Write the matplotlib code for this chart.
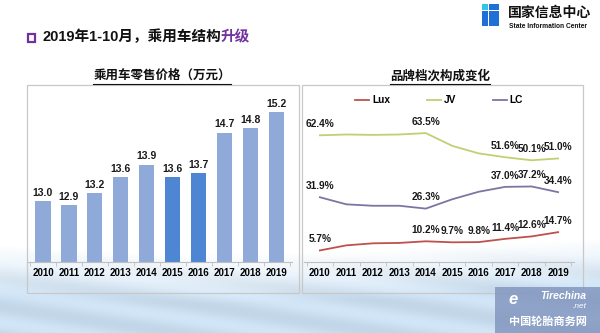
import matplotlib
matplotlib.use("Agg")
import matplotlib.pyplot as plt
from matplotlib.patches import Rectangle
from matplotlib.lines import Line2D
import numpy as np

plt.rcParams['font.family'] = ['Liberation Sans', 'Noto Sans CJK SC', 'DejaVu Sans']

# ---- data ----
years = ['2010', '2011', '2012', '2013', '2014', '2015', '2016', '2017', '2018', '2019']
prices = [13.0, 12.9, 13.2, 13.6, 13.9, 13.6, 13.7, 14.7, 14.8, 15.2]
highlight_years = ['2015', '2016']

lux = [5.7, 8.2, 9.2, 9.4, 10.2, 9.7, 9.8, 11.4, 12.6, 14.7]
jv = [62.4, 62.8, 62.6, 62.8, 63.5, 57.2, 53.5, 51.6, 50.1, 51.0]
lc = [31.9, 28.4, 27.7, 27.7, 26.3, 30.9, 34.6, 37.0, 37.2, 34.4]
lux_labeled = ['2010', '2014', '2015', '2016', '2017', '2018', '2019']
jv_labeled = ['2010', '2014', '2017', '2018', '2019']
lc_labeled = ['2010', '2014', '2017', '2018', '2019']

main_title = '2019年1-10月，乘用车结构'
main_title_hl = '升级'
left_title = '乘用车零售价格（万元）'
right_title = '品牌档次构成变化'

W, H = 600, 333
fig = plt.figure(figsize=(6, 3.33), dpi=100)


def fx(px):
    return px / W


def fy(py):
    return 1 - py / H


# ---- background: white fading to pale blue at the bottom ----
bg = fig.add_axes([0, 0, 1, 1], zorder=-10)
yy, xx = np.mgrid[0:H, 0:W]
t = np.clip((yy - 245 - 8 * np.sin(xx / W * np.pi * 1.3)) / 50, 0, 1)
band = 0.03 * np.sin((yy - 0.15 * xx) / 5.0)
white = np.array([1.0, 1.0, 1.0])
blue = np.array([0.79, 0.87, 0.94])
img = white * (1 - t[..., None]) + blue * t[..., None]
img = np.clip(img + (band * t)[..., None], 0, 1)
bg.imshow(img, aspect='auto', extent=[0, 1, 0, 1])
bg.axis('off')

# ---- panel frames ----
for x0, x1 in [(27, 299), (302, 583)]:
    fig.add_artist(Rectangle((fx(x0), fy(293)), fx(x1 - x0), (293 - 85) / H,
                             transform=fig.transFigure, fill=False,
                             ec='#C8C8C8', lw=0.9))

grey = '#BFBFBF'
x = np.arange(len(years))


def style_axis(ax):
    ax.patch.set_alpha(0)
    for s in ['top', 'left', 'right']:
        ax.spines[s].set_visible(False)
    ax.spines['bottom'].set_color(grey)
    ax.spines['bottom'].set_linewidth(0.8)
    ax.set_yticks([])
    ax.set_xticks(x)
    ax.set_xticklabels(years, fontsize=7, fontweight='bold')
    ax.tick_params(axis='x', which='major', length=0, pad=4)
    ax.set_xticks(np.arange(len(years) + 1) - 0.5, minor=True)
    ax.tick_params(axis='x', which='minor', length=3, color=grey, width=0.6)
    ax.set_xlim(-0.6, len(years) - 0.4)


# ---- left: bar chart ----
ax1 = fig.add_axes([fx(27.4), 71 / H, fx(265), 174 / H])
style_axis(ax1)
colors = ['#4F86D4' if y in highlight_years else '#8FAAD8' for y in years]
bars = ax1.bar(x, prices, width=0.58, color=colors)
ax1.set_ylim(11.5, 15.8)
ax1.bar_label(bars, labels=[f'{v:.1f}' for v in prices], padding=2.5,
              fontsize=7.5, fontweight='bold', color='#1A1A1A')

# ---- right: line chart ----
ax2 = fig.add_axes([fx(304), 71 / H, fx(270), 174 / H])
style_axis(ax2)
ax2.set_ylim(0, 85.7)
series = [('Lux', lux, '#C0504D', lux_labeled),
          ('JV', jv, '#C2CF72', jv_labeled),
          ('LC', lc, '#7A76A4', lc_labeled)]
handles = []
for name, vals, col, labeled in series:
    ln, = ax2.plot(x, vals, color=col, lw=1.3)
    handles.append(ln)
    for i, y in enumerate(years):
        if y in labeled:
            ax2.annotate(f'{vals[i]:.1f}%', (x[i], vals[i]), xytext=(0, 8),
                         textcoords='offset points', ha='center', va='center',
                         fontsize=7.3, fontweight='bold', color='#1A1A1A')
ax2.legend(handles, [s[0] for s in series], loc='center',
           bbox_to_anchor=(0.50, 0.93), ncol=3, frameon=False,
           handlelength=1.4, handletextpad=0.3, columnspacing=3.6,
           prop={'size': 7.3, 'weight': 'bold'})

# ---- titles ----
fig.add_artist(Rectangle((fx(28), fy(42)), fx(7), 8 / H, transform=fig.transFigure,
                         fill=False, ec='#7030A0', lw=1.6))
t1 = fig.text(fx(42), fy(37), main_title, fontsize=10.5, fontweight='bold',
              va='center', ha='left', color='#111111')
fig.canvas.draw()
r = fig.canvas.get_renderer()
bb = t1.get_window_extent(r)
fig.text(bb.x1 / W, fy(37), main_title_hl, fontsize=10.5, fontweight='bold',
         va='center', ha='left', color='#7030A0')

for cx, txt in [(162, left_title), (440, right_title)]:
    st = fig.text(fx(cx), fy(76), txt, fontsize=9, fontweight='bold',
                  ha='center', va='center', color='#111111')
    b = st.get_window_extent(r)
    fig.add_artist(Line2D([b.x0 / W, b.x1 / W], [fy(84), fy(84)],
                          transform=fig.transFigure, color='#111111', lw=0.8))

# ---- logo, top right ----
logo_blocks = [((482, 4), 6, 6, '#35C3E8'), ((489, 4), 10, 6, '#1F6FD6'),
               ((482, 11), 6, 15, '#1F6FD6'), ((489, 11), 10, 15, '#1F6FD6')]
for (lx, ly), w, h, c in logo_blocks:
    fig.add_artist(Rectangle((fx(lx), fy(ly + h)), fx(w), h / H,
                             transform=fig.transFigure, color=c, lw=0))
fig.text(fx(508), fy(13), '国家信息中心', fontsize=10, fontweight='bold',
         ha='left', va='center', color='#111111')
fig.text(fx(509), fy(26), 'State Information Center', fontsize=4.8,
         fontweight='bold', ha='left', va='center', color='#111111')

# ---- watermark ----
fig.add_artist(Rectangle((fx(495), 0), fx(105), 46 / H, transform=fig.transFigure,
                         color='#7F93BE', alpha=0.8, lw=0))
fig.text(fx(513), fy(300), 'e', fontsize=12, fontstyle='italic', fontweight='bold',
         ha='center', va='center', color='white')
fig.text(fx(563), fy(296), 'Tirechina', fontsize=7.5, fontstyle='italic',
         fontweight='bold', ha='center', va='center', color='white')
fig.text(fx(580), fy(306), '.net', fontsize=6, fontstyle='italic',
         ha='center', va='center', color='white')
fig.text(fx(548), fy(322), '中国轮胎商务网', fontsize=8, fontweight='bold',
         ha='center', va='center', color='white')

fig.savefig('out.png', dpi=100)
